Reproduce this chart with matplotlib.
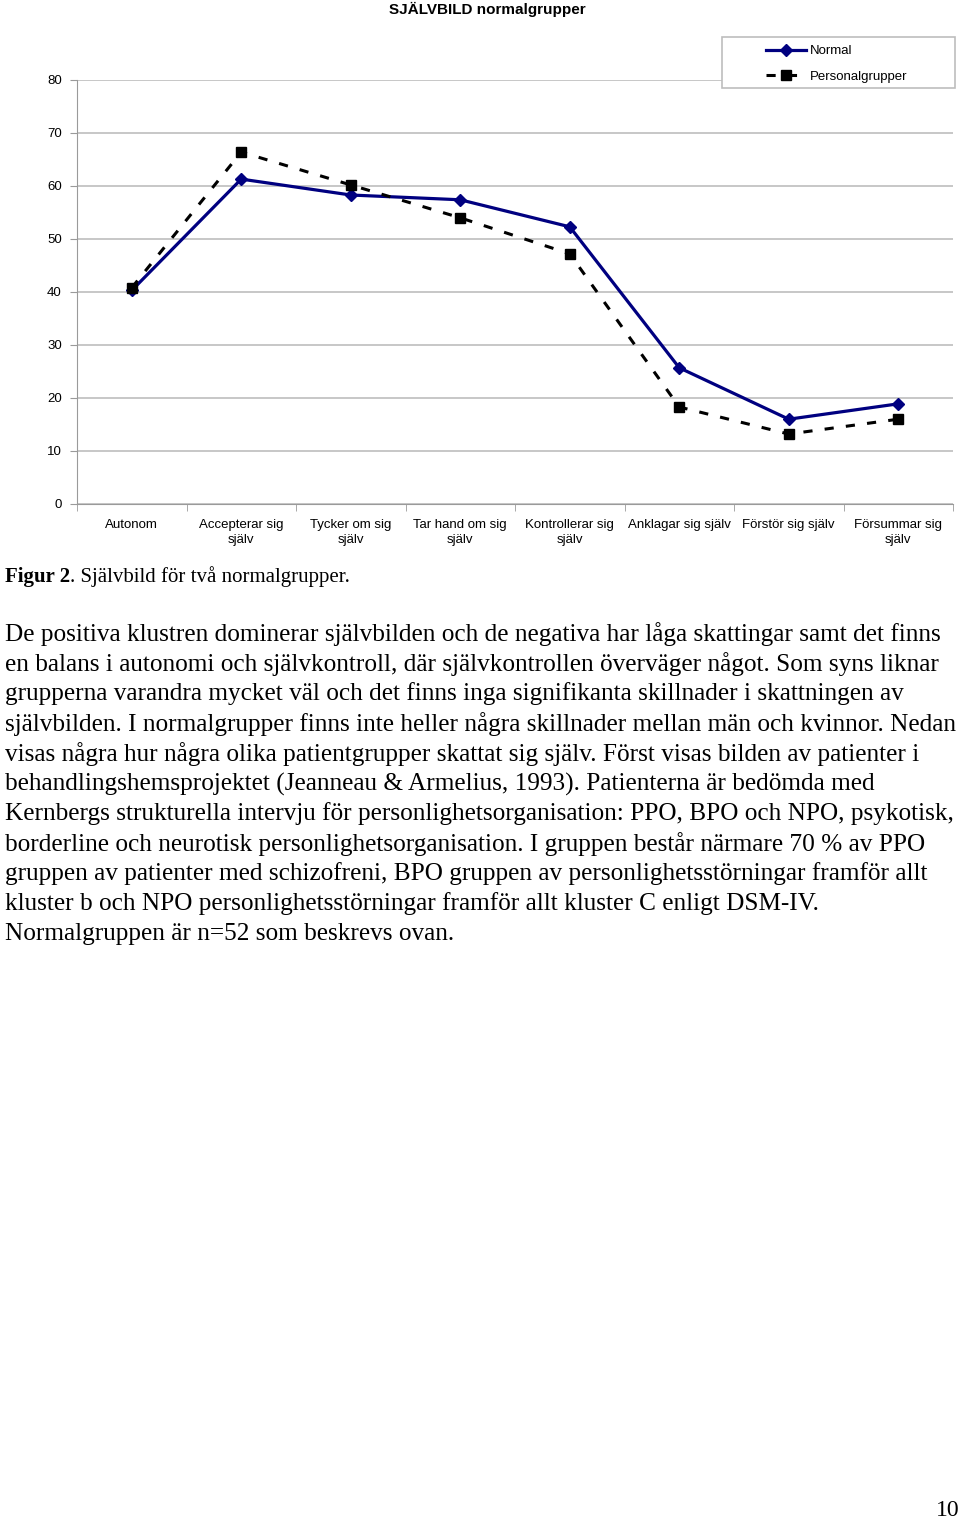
import numpy as np
import matplotlib
matplotlib.use("Agg")
from matplotlib import pyplot as plt
from matplotlib.patches import Rectangle

categories = ['Autonom', 'Accepterar sig\nsjälv', 'Tycker om sig\nsjälv', 'Tar hand om sig\nsjälv',
              'Kontrollerar sig\nsjälv', 'Anklagar sig själv', 'Förstör sig själv', 'Försummar sig\nsjälv']
normal = [40.3, 61.3, 58.3, 57.4, 52.3, 25.7, 16.0, 18.9]
personal = [40.8, 66.4, 60.2, 54.0, 47.2, 18.3, 13.2, 16.0]
yticks = [0, 10, 20, 30, 40, 50, 60, 70, 80]

body = [
    "De positiva klustren dominerar självbilden och de negativa har låga skattingar samt det finns",
    "en balans i autonomi och självkontroll, där självkontrollen överväger något. Som syns liknar",
    "grupperna varandra mycket väl och det finns inga signifikanta skillnader i skattningen av",
    "självbilden. I normalgrupper finns inte heller några skillnader mellan män och kvinnor. Nedan",
    "visas några hur några olika patientgrupper skattat sig själv. Först visas bilden av patienter i",
    "behandlingshemsprojektet (Jeanneau & Armelius, 1993). Patienterna är bedömda med",
    "Kernbergs strukturella intervju för personlighetsorganisation: PPO, BPO och NPO, psykotisk,",
    "borderline och neurotisk personlighetsorganisation. I gruppen består närmare 70 % av PPO",
    "gruppen av patienter med schizofreni, BPO gruppen av personlighetsstörningar framför allt",
    "kluster b och NPO personlighetsstörningar framför allt kluster C enligt DSM-IV.",
    "Normalgruppen är n=52 som beskrevs ovan.",
]

W, H = 960, 1523
fig = plt.figure(figsize=(W / 100, H / 100), dpi=100)
ax = fig.add_axes([77 / W, 1 - 504 / H, (953 - 77) / W, (504 - 80) / H])

x = np.arange(len(categories))
ax.plot(x, normal, color='#000080', lw=2.3, marker='D', ms=6.5, label='Normal', zorder=3)
ax.plot(x, personal, color='black', lw=2.2, ls=(0, (3, 4)), marker='s', ms=6.5,
        label='Personalgrupper', zorder=3)

ax.set_xlim(-0.5, len(categories) - 0.5)
ax.set_ylim(0, 80)
ax.set_yticks(yticks)
ax.set_yticklabels([str(v) for v in yticks], fontsize=9.5, family='Liberation Sans')
ax.yaxis.grid(True, color='#bdbdbd', lw=1.2)
ax.set_axisbelow(True)
ax.set_xticks(x)
ax.set_xticklabels(categories, fontsize=9.5, family='Liberation Sans', linespacing=1.35)
ax.tick_params(axis='x', length=0, pad=11)
ax.set_xticks(np.arange(len(categories) + 1) - 0.5, minor=True)
ax.tick_params(axis='x', which='minor', length=5, color='#9a9a9a')
ax.tick_params(axis='y', length=5, color='#9a9a9a', pad=6)
for s in ['top', 'right']:
    ax.spines[s].set_visible(False)
for s in ['left', 'bottom']:
    ax.spines[s].set_color('#9a9a9a')

# legend box drawn separately, Excel style wide frame
fig.patches.append(Rectangle((722 / W, 1 - 88 / H), (955 - 722) / W, (88 - 37) / H,
                             transform=fig.transFigure, facecolor='white', edgecolor='#bdbdbd', lw=1.2))
leg = fig.legend(loc='upper left', bbox_to_anchor=(766 / W, 1 - 45 / H),
                 prop={'family': 'Liberation Sans', 'size': 9.5}, frameon=False,
                 handlelength=3.0, handletextpad=0.3, borderpad=0, labelspacing=1.0, borderaxespad=0)

fig.text(487 / W, 1 - 9 / H, 'SJÄLVBILD normalgrupper', ha='center', va='center',
         fontsize=11, fontweight='bold', family='Liberation Sans')

t = fig.text(5 / W, 1 - 577 / H, 'Figur 2', ha='left', va='center', fontsize=15,
             fontweight='bold', family='Liberation Serif')
fig.canvas.draw()
bb = t.get_window_extent()
fig.text(bb.x1 / W, 1 - 577 / H, '. Självbild för två normalgrupper.', ha='left', va='center',
         fontsize=15, family='Liberation Serif')

for i, line in enumerate(body):
    fig.text(5 / W, 1 - (634 + 30 * i) / H, line, ha='left', va='center', fontsize=18.2,
             family='Liberation Serif')

fig.text(960 / W, 1 - 1511 / H, '10', ha='right', va='center', fontsize=17, family='Liberation Serif')

fig.savefig('out.png', dpi=100)
